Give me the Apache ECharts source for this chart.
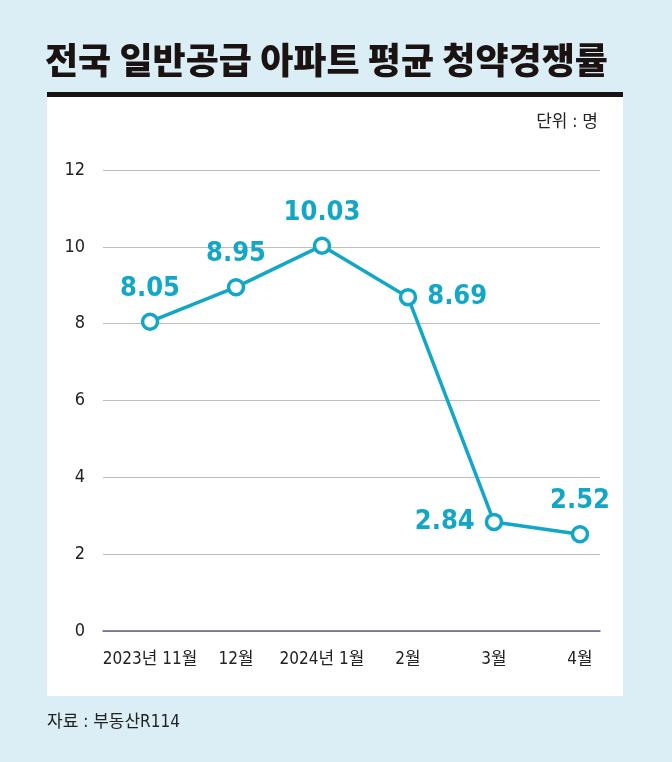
<!DOCTYPE html>
<html><head><meta charset="utf-8">
<script src="https://cdn.jsdelivr.net/npm/echarts@6/dist/echarts.min.js"></script>
<style>html,body{margin:0;padding:0;background:#dbeef5;}#c{width:672px;height:762px;}</style>
</head><body><div id="c"></div>
<script>
const categories = ['2023년 11월', '12월', '2024년 1월', '2월', '3월', '4월'];
const values = [8.05, 8.95, 10.03, 8.69, 2.84, 2.52];
const labelPositions = ['top', 'top', 'top', 'right', 'left', 'top'];
const yTicks = [0, 2, 4, 6, 8, 10, 12];

const FONT = '"DejaVu Sans Condensed", "Noto Sans CJK KR", sans-serif';
const TEAL = '#12a7c6';

const chart = echarts.init(document.getElementById('c'));
const data = values.map((v, i) => ({
  value: [i, v],
  label: { position: labelPositions[i] }
}));

chart.setOption({
  backgroundColor: '#dbeef5',
  animation: false,
  graphic: [
    { type: 'rect', shape: { x: 47, y: 95, width: 576, height: 601 }, style: { fill: '#ffffff' }, z: -10 },
    { type: 'rect', shape: { x: 47, y: 92, width: 576, height: 5 }, style: { fill: '#1a1311' }, z: -5 },
    { type: 'text', left: 45, top: 42, style: { text: '전국 일반공급 아파트 평균 청약경쟁률', font: '900 36px "Noto Sans CJK KR", sans-serif', fill: '#1a1311' } },
    { type: 'text', right: 74, top: 114, style: { text: '단위 : 명', font: '17px ' + FONT, fill: '#222' } },
    { type: 'text', left: 47, top: 714, style: { text: '자료 : 부동산R114', font: '17px ' + FONT, fill: '#222' } }
  ],
  grid: { left: 103, right: 72, top: 170, bottom: 131 },
  xAxis: {
    type: 'value',
    min: -0.547,
    max: 5.233,
    axisLine: { show: true, onZero: false, lineStyle: { color: '#6a5f82', width: 1.5 } },
    axisTick: { show: false },
    splitLine: { show: false },
    axisLabel: {
      customValues: categories.map((c, i) => i),
      formatter: v => categories[Math.round(v)],
      fontFamily: FONT, fontSize: 17, color: '#222', margin: 20
    }
  },
  yAxis: {
    type: 'value',
    min: 0, max: 12, interval: 2,
    axisLine: { show: false },
    axisTick: { show: false },
    axisLabel: { fontFamily: FONT, fontSize: 18, color: '#222', margin: 18, formatter: v => yTicks.includes(v) ? String(v) : '' },
    splitLine: { lineStyle: { color: '#bdbdbd', width: 1 } }
  },
  series: [{
    type: 'line',
    data: data,
    symbol: 'circle',
    symbolSize: 15,
    lineStyle: { color: TEAL, width: 3.5 },
    itemStyle: { color: '#ffffff', borderColor: TEAL, borderWidth: 3.5 },
    label: {
      show: true,
      formatter: p => p.value[1].toFixed(2),
      fontFamily: FONT, fontWeight: 'bold', fontSize: 27, color: TEAL, distance: 10
    }
  }]
});
</script></body></html>
